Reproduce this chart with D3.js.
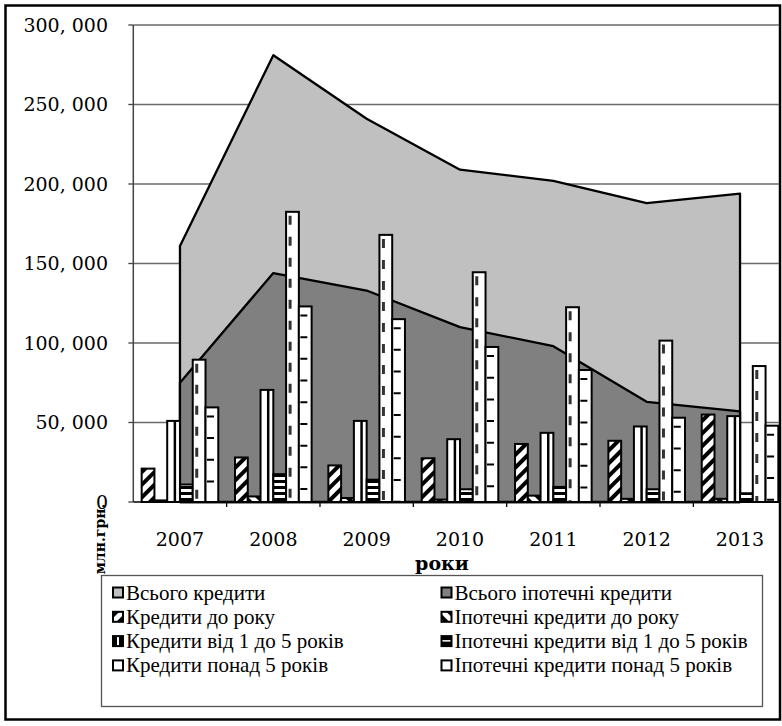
<!DOCTYPE html>
<html>
<head>
<meta charset="utf-8">
<script src="https://cdn.jsdelivr.net/npm/d3@7"></script>
<style>
  html, body { margin: 0; padding: 0; background: #fff; }
  svg { display: block; }
</style>
</head>
<body>
<svg id="chart" width="782" height="726"></svg>
<script>
// Credit portfolio, mln UAH, 2007–2013
const years = ["2007", "2008", "2009", "2010", "2011", "2012", "2013"];
const totalCredits      = [161000, 281000, 241000, 209000, 202000, 188000, 194000];
const mortgageTotal     = [75000, 144000, 133000, 110000, 98000, 63000, 57000];
const creditsUpTo1Year  = [21000, 28000, 23000, 27500, 36500, 38500, 55000];
const mortgageUpTo1Year = [1000, 3500, 2500, 1500, 4000, 2000, 2000];
const credits1to5Years  = [51000, 70500, 51000, 39500, 43500, 47500, 54000];
const mortgage1to5Years = [11000, 17500, 14000, 8000, 9500, 8000, 5500];
const creditsOver5Years = [89500, 182500, 168000, 144500, 122500, 101500, 85500];
const mortgageOver5Years = [59500, 123000, 115000, 97500, 83000, 53000, 48000];
const yTicks = [0, 50000, 100000, 150000, 200000, 250000, 300000];

const areaLabels = ["Всього кредити", "Всього іпотечні кредити"];
const barLabels = [
  "Кредити до року", "Іпотечні кредити до року",
  "Кредити від 1 до 5 років", "Іпотечні кредити від 1 до 5 років",
  "Кредити понад 5 років", "Іпотечні кредити понад 5 років"
];
const barValues = [creditsUpTo1Year, mortgageUpTo1Year, credits1to5Years,
                   mortgage1to5Years, creditsOver5Years, mortgageOver5Years];

const svg = d3.select("#chart");
const defs = svg.append("defs");

// fill patterns
function stripePattern(id, angle, w, gap) {
  const p = defs.append("pattern").attr("id", id)
    .attr("patternUnits", "userSpaceOnUse")
    .attr("width", w + gap).attr("height", w + gap)
    .attr("patternTransform", `rotate(${angle})`);
  p.append("rect").attr("width", w + gap).attr("height", w + gap).attr("fill", "#fff");
  p.append("rect").attr("width", w).attr("height", w + gap).attr("fill", "#000");
}
stripePattern("diagUp", 45, 4, 5);
stripePattern("diagDown", -45, 4, 5);
stripePattern("horiz", 90, 3, 3);

const plotLeft = 133.3, plotRight = 786.7, plotTop = 25, plotBottom = 502;

const x = d3.scaleBand().domain(years).range([plotLeft, plotRight]).padding(0);
const y = d3.scaleLinear().domain([0, 300000]).range([plotBottom, plotTop]);
const xi = d3.scaleBand().domain(d3.range(6)).range([0, x.bandwidth()])
  .paddingInner(0).paddingOuter(0.655);
const bw = xi.bandwidth();

// outer frame
svg.append("rect").attr("x", 5.5).attr("y", 5.5).attr("width", 774.5).attr("height", 714)
  .attr("fill", "none").attr("stroke", "#000").attr("stroke-width", 2.5);

// gridlines
svg.append("g").selectAll("line").data(yTicks.filter(d => d > 0)).join("line")
  .attr("x1", plotLeft).attr("x2", 779)
  .attr("y1", d => y(d)).attr("y2", d => y(d))
  .attr("stroke", "#6a6a6a").attr("stroke-width", 1.3);

// areas
const cx = d => x(d) + x.bandwidth() / 2;
const area = d3.area().x(d => cx(d.year)).y0(plotBottom).y1(d => y(d.v));
const mk = arr => years.map((yr, i) => ({ year: yr, v: arr[i] }));
svg.append("path").datum(mk(totalCredits)).attr("d", area)
  .attr("fill", "#c0c0c0").attr("stroke", "#000").attr("stroke-width", 2.3).attr("stroke-linejoin", "round");
svg.append("path").datum(mk(mortgageTotal)).attr("d", area)
  .attr("fill", "#808080").attr("stroke", "#000").attr("stroke-width", 2.3).attr("stroke-linejoin", "round");

// bars
const barFills = ["url(#diagUp)", "url(#diagDown)", "#fff", "url(#horiz)", "#fff", "#fff"];
barValues.forEach((vals, s) => {
  const g = svg.append("g");
  years.forEach((yr, i) => {
    const bx = x(yr) + xi(s), by = y(vals[i]), bh = plotBottom - by;
    g.append("rect").attr("x", bx).attr("y", by).attr("width", bw).attr("height", bh)
      .attr("fill", barFills[s]).attr("stroke", "#000").attr("stroke-width", 2);
    if (s === 2) {
      // vertical stripe
      g.append("line").attr("x1", bx + bw * 0.6).attr("x2", bx + bw * 0.6)
        .attr("y1", by).attr("y2", plotBottom).attr("stroke", "#000").attr("stroke-width", 2.5);
    } else if (s === 4) {
      // dashed vertical line
      g.append("line").attr("x1", bx + 4).attr("x2", bx + 4)
        .attr("y1", by + 4).attr("y2", plotBottom)
        .attr("stroke", "#333").attr("stroke-width", 3).attr("stroke-dasharray", "9 12");
    } else if (s === 5) {
      // short horizontal dashes
      g.append("line").attr("x1", bx + 5).attr("x2", bx + 5)
        .attr("y1", by + 8).attr("y2", plotBottom)
        .attr("stroke", "#000").attr("stroke-width", 7).attr("stroke-dasharray", "2 19.7");
    }
  });
});

// axes
svg.append("line").attr("x1", plotLeft).attr("x2", plotLeft).attr("y1", plotTop).attr("y2", plotBottom)
  .attr("stroke", "#444").attr("stroke-width", 1.5);
svg.append("line").attr("x1", plotLeft).attr("x2", 779).attr("y1", plotBottom).attr("y2", plotBottom)
  .attr("stroke", "#000").attr("stroke-width", 1.5);
svg.append("g").selectAll("line").data(yTicks).join("line")
  .attr("x1", plotLeft - 5).attr("x2", plotLeft).attr("y1", d => y(d)).attr("y2", d => y(d))
  .attr("stroke", "#444").attr("stroke-width", 1.3);
svg.append("g").selectAll("line").data(years.slice(1)).join("line")
  .attr("x1", d => x(d)).attr("x2", d => x(d)).attr("y1", plotBottom).attr("y2", plotBottom + 5)
  .attr("stroke", "#000").attr("stroke-width", 1.3);

const fmt = d => d === 0 ? "0" : d3.format(",")(d).replace(",", ", ");
svg.append("g").selectAll("text").data(yTicks).join("text")
  .attr("x", 108).attr("y", d => y(d)).attr("dy", "0.35em")
  .attr("text-anchor", "end")
  .attr("font-family", "DejaVu Serif").attr("font-size", 19)
  .text(fmt);

svg.append("g").selectAll("text").data(years).join("text")
  .attr("x", d => cx(d)).attr("y", 546).attr("text-anchor", "middle")
  .attr("font-family", "DejaVu Serif").attr("font-size", 19)
  .text(d => d);

svg.append("text").attr("x", 442).attr("y", 570).attr("text-anchor", "middle")
  .attr("font-family", "DejaVu Serif").attr("font-weight", "bold").attr("font-size", 19)
  .text("роки");

// legend
const lg = svg.append("g");
lg.append("rect").attr("x", 101.5).attr("y", 575.5).attr("width", 661).attr("height", 131)
  .attr("fill", "#fff").attr("stroke", "#555").attr("stroke-width", 1.3);
const legendItems = [
  { label: areaLabels[0], fill: "#c0c0c0" },
  { label: areaLabels[1], fill: "#808080" },
  { label: barLabels[0], fill: "url(#diagUp)" },
  { label: barLabels[1], fill: "url(#diagDown)" },
  { label: barLabels[2], fill: "#000", stripe: "v" },
  { label: barLabels[3], fill: "#000", stripe: "h" },
  { label: barLabels[4], fill: "#fff" },
  { label: barLabels[5], fill: "#fff" }
];
legendItems.forEach((it, i) => {
  const col = i % 2, row = Math.floor(i / 2);
  const ix = col === 0 ? 113 : 441.5, base = 599.5 + row * 24.3;
  const g = lg.append("g");
  g.append("rect").attr("x", ix).attr("y", base - 12).attr("width", 10).attr("height", 10)
    .attr("fill", it.fill).attr("stroke", "#000").attr("stroke-width", 2);
  if (it.stripe === "v") {
    g.append("rect").attr("x", ix + 4).attr("y", base - 11).attr("width", 2).attr("height", 8).attr("fill", "#fff");
  } else if (it.stripe === "h") {
    g.append("rect").attr("x", ix + 1).attr("y", base - 8).attr("width", 8).attr("height", 1.5).attr("fill", "#fff");
  }
  g.append("text").attr("x", ix + 13).attr("y", base)
    .attr("font-family", "Liberation Serif").attr("font-size", 21)
    .text(it.label);
});

// value axis title
svg.append("text").attr("transform", "translate(105,539) rotate(-90)")
  .attr("text-anchor", "middle")
  .attr("font-family", "DejaVu Serif").attr("font-weight", "bold").attr("font-size", 14)
  .text("млн.грн.");
</script>
</body>
</html>
